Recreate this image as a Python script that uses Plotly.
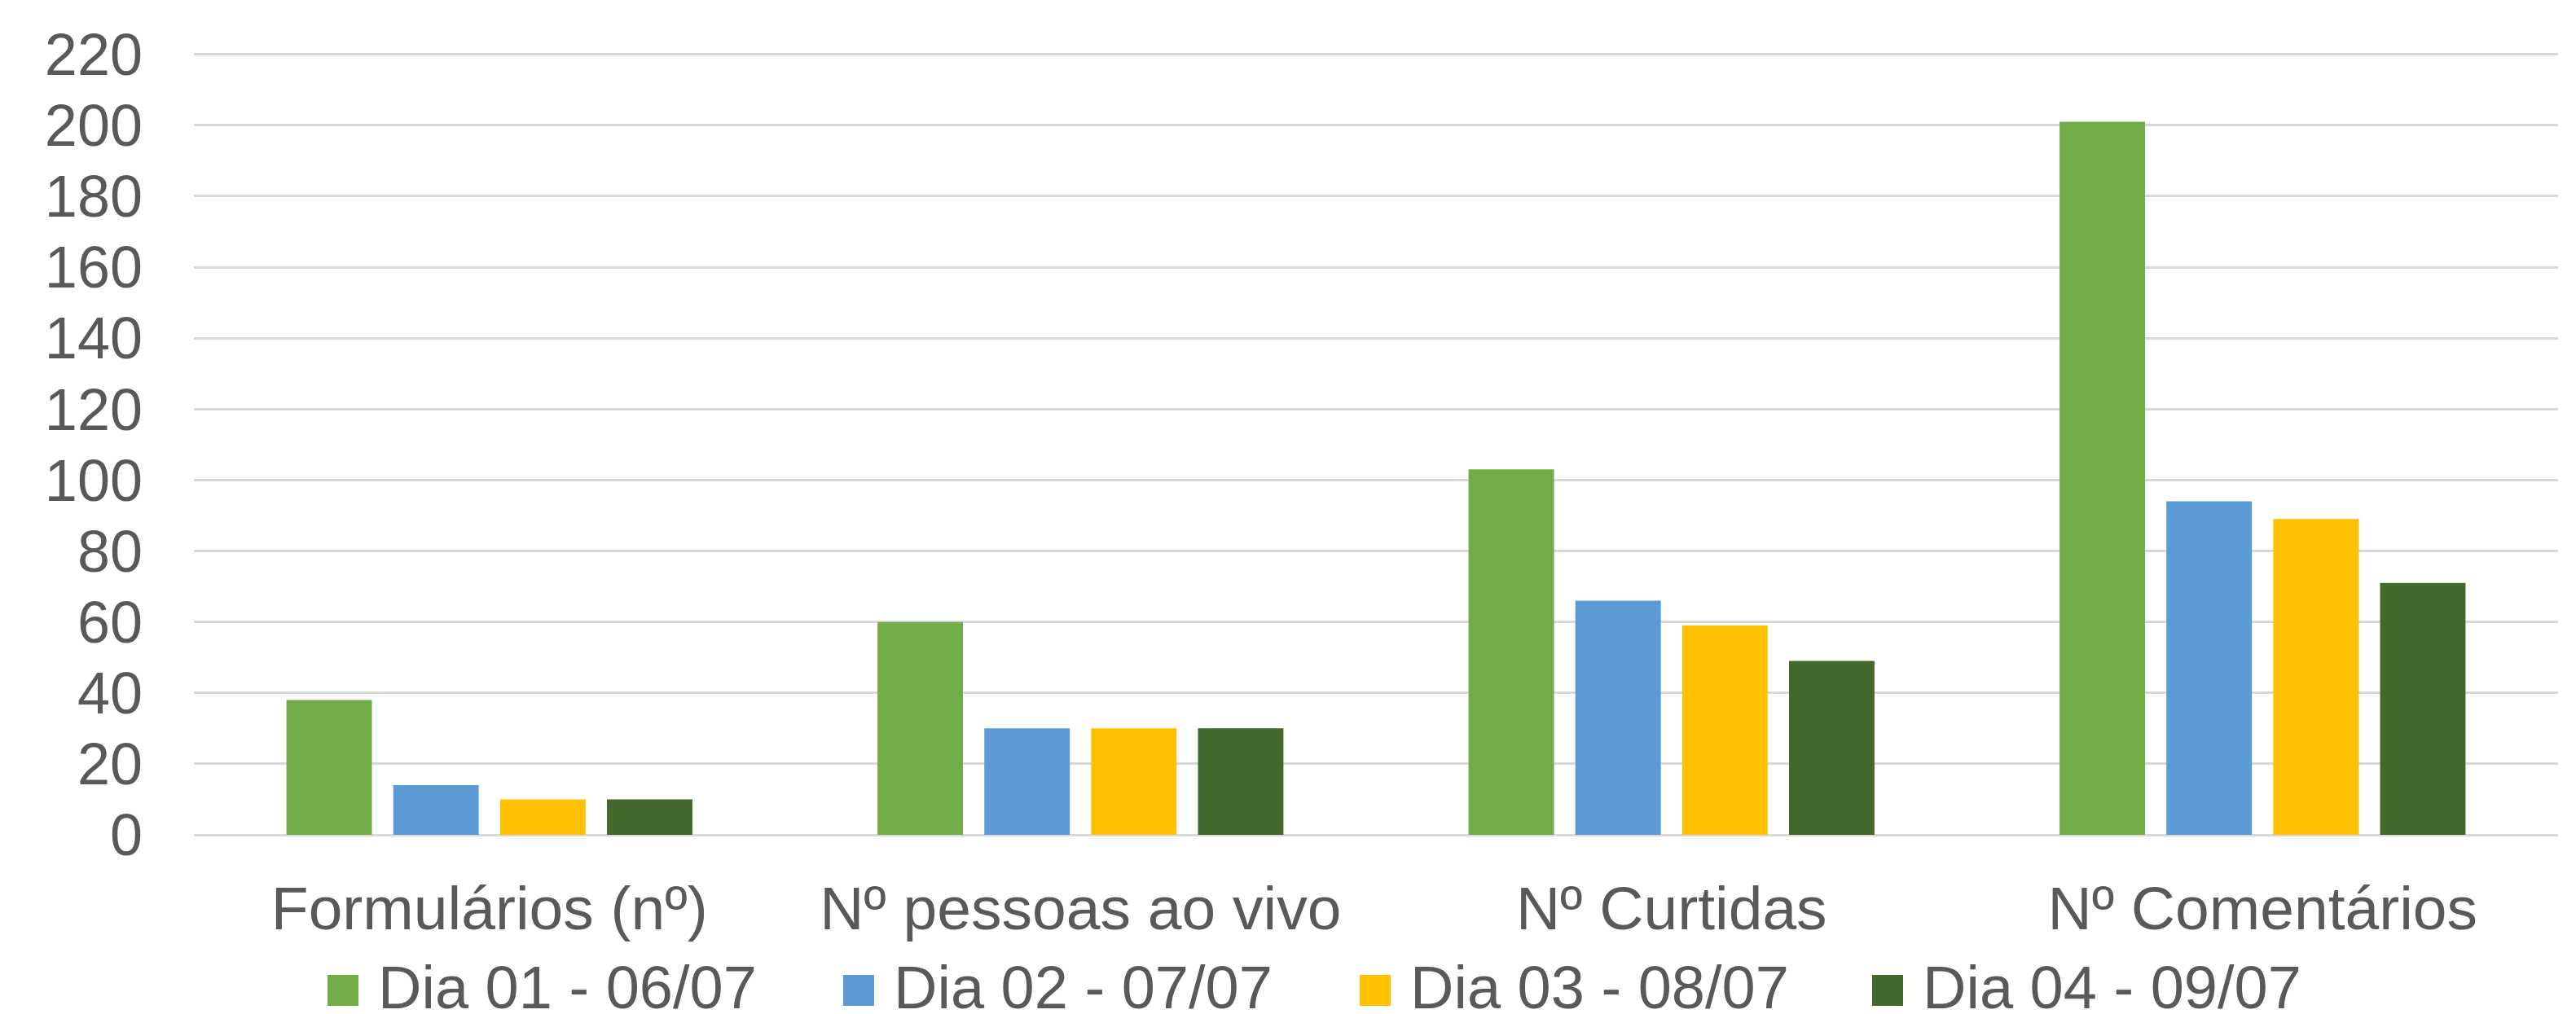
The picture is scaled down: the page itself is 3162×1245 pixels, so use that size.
import plotly.graph_objects as go

categories = ["Formulários (nº)", "Nº pessoas ao vivo", "Nº Curtidas", "Nº Comentários"]
series_names = ["Dia 01 - 06/07", "Dia 02 - 07/07", "Dia 03 - 08/07", "Dia 04 - 09/07"]
dia01 = [38, 60, 103, 201]
dia02 = [14, 30, 66, 94]
dia03 = [10, 30, 59, 89]
dia04 = [10, 30, 49, 71]
y_ticks = [0, 20, 40, 60, 80, 100, 120, 140, 160, 180, 200, 220]

colors = ["#70AD47", "#5B9BD5", "#FFC000", "#43682B"]
series_values = [dia01, dia02, dia03, dia04]

OFF = 8  # page body margin
W, H = 3162 - OFF, 1245 - OFF
L, T = 238 - OFF, 65 - OFF
R = 22
B = 1245 - 1025
plot_w = W - L - R
plot_h = H - T - B
FONT = "Liberation Sans, Arial, sans-serif"
TXT = "#595959"

fig = go.Figure()
for name, vals, col in zip(series_names, series_values, colors):
    fig.add_trace(go.Bar(x=categories, y=vals, name=name, marker=dict(color=col, line=dict(width=0)),
                         showlegend=False))


def px_x(p):
    return (p - OFF - L) / plot_w


def px_y(p):
    return (T + plot_h - (p - OFF)) / plot_h


# manual legend (large square markers like the original)
legend_left_px = [402, 1035, 1669, 2298]
sq = 38
cy_px = 1212
shapes = []
annotations = []
for lx, name, col in zip(legend_left_px, series_names, colors):
    shapes.append(dict(type="rect", xref="paper", yref="paper",
                       x0=px_x(lx), x1=px_x(lx + sq),
                       y0=px_y(cy_px + 4 + sq / 2), y1=px_y(cy_px + 4 - sq / 2),
                       fillcolor=col, line=dict(width=0)))
    annotations.append(dict(xref="paper", yref="paper", x=px_x(lx + 60), y=px_y(cy_px),
                            text=name, showarrow=False, xanchor="left", yanchor="middle",
                            font=dict(family=FONT, size=74, color=TXT)))

fig.update_layout(
    width=W, height=H,
    margin=dict(l=L, r=R, t=T, b=B, autoexpand=False),
    paper_bgcolor="white", plot_bgcolor="white",
    barmode="group", bargap=0.277, bargroupgap=0.2,
    font=dict(family=FONT, size=73, color=TXT),
    shapes=shapes, annotations=annotations,
    showlegend=False,
)
fig.update_xaxes(showgrid=False, showline=False, ticks="", tickfont=dict(size=75, color=TXT),
                 ticklabelstandoff=40)
fig.update_yaxes(range=[0, 220.4], tickvals=y_ticks, showgrid=True, gridcolor="#D9D9D9", gridwidth=3,
                 zeroline=True, zerolinecolor="#D9D9D9", zerolinewidth=3, showline=False,
                 ticks="", tickfont=dict(size=72, color=TXT), ticklabelstandoff=62)

fig.write_html("out.html")
